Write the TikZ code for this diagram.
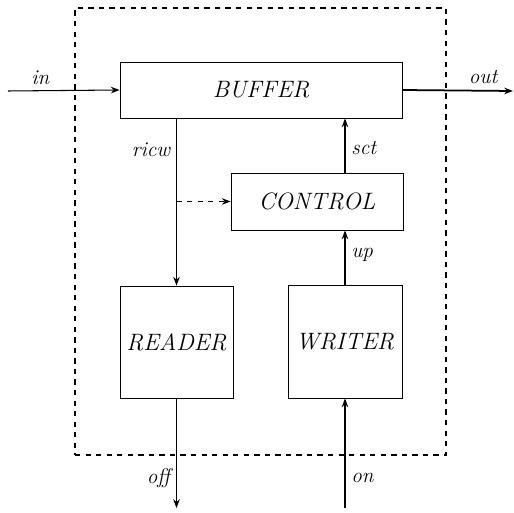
\documentclass[tikz,border=0pt]{standalone}
\usetikzlibrary{arrows.meta, positioning, calc}
\tikzset{
  block/.style={
    rectangle, draw=black, line width=0.5pt,
    font=\fontsize{13.5}{16}\selectfont\itshape, text centered, inner sep=3pt
  },
  arr/.style={
    -{Stealth[length=5pt]}, line width=0.6pt
  },
  dasharr/.style={
    arr, dashed
  },
  sig/.style={
    font=\large\itshape
  }
}
\begin{document}
\begin{tikzpicture}[x=0.02cm, y=-0.02cm]
\useasboundingbox (0,0) rectangle (514,513);

%% ==============================================================
%% Blocks
%% ==============================================================

% --- System boundary ---
\node[draw, dashed, line width=0.7pt, minimum width=7.42cm,
      minimum height=8.94cm] (system) at (260.5,231.5) {};

% --- Buffer ---
\node[block, minimum width=5.64cm, minimum height=1.12cm]
  (buffer) at (261,90) {BUFFER};

% --- Control ---
\node[block, minimum width=3.44cm, minimum height=1.14cm]
  (control) at (317,201.5) {CONTROL};

% --- Reader ---
\node[block, minimum width=2.26cm, minimum height=2.24cm]
  (reader) at (176.5,342) {READER};

% --- Writer ---
\node[block, minimum width=2.28cm, minimum height=2.26cm]
  (writer) at (345,341.5) {WRITER};

% --- free ends ---
\coordinate (inStart) at (8,91);
\coordinate (outEnd) at (513,91);
\coordinate (offEnd) at (176.5,508);
\coordinate (onStart) at (345,508);

%% ==============================================================
%%  ARROWS
%% ==============================================================

% outside to buffer
\draw[arr] (inStart) -- node[sig, above, pos=0.29]{in} (buffer.west);

% buffer to outside
\draw[arr, line width=1pt] (buffer.east) -- node[sig, above, pos=0.73]{out} (outEnd);

% buffer to reader
\draw[arr] (buffer.south -| reader.north) --
  node[sig, left, pos=0.19]{ricw} (reader.north);

% reader line tapped into control
\draw[dasharr] (reader.north |- control.west) -- (control.west);

% control to buffer
\draw[arr] (writer.north |- control.north) --
  node[sig, right, pos=0.45]{sct} (writer.north |- buffer.south);

% writer to control
\draw[arr] (writer.north) -- node[sig, right, pos=0.55]{up} (writer.north |- control.south);

% reader to outside
\draw[arr] (reader.south) -- node[sig, left, pos=0.73]{off} (offEnd);

% outside to writer
\draw[arr] (onStart) -- node[sig, right, pos=0.27]{on} (writer.south);

\end{tikzpicture}
\end{document}
